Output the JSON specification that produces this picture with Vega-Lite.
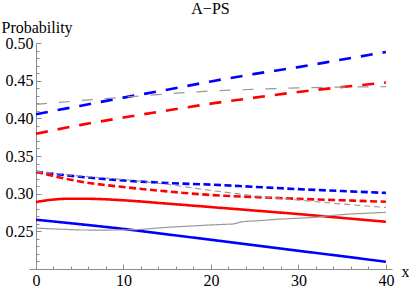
{
  "$schema": "https://vega.github.io/schema/vega-lite/v6.json",
  "width": 363,
  "height": 226,
  "autosize": "none",
  "padding": {"left": 29, "top": 43, "right": 17, "bottom": 22},
  "background": "white",
  "config": {
    "view": {"stroke": null},
    "font": "Liberation Serif",
    "axis": {
      "grid": false,
      "domainColor": "#8c8c8c",
      "tickColor": "#8c8c8c",
      "labelColor": "black",
      "labelFont": "Liberation Serif",
      "labelFontSize": 16,
      "titleFont": "Liberation Serif",
      "titleFontSize": 16,
      "titleFontWeight": "normal",
      "titleColor": "black"
    }
  },
  "title": {"text": "A−PS", "font": "Liberation Serif", "fontSize": 16, "fontWeight": "normal", "color": "black", "anchor": "middle", "frame": "group", "offset": 2},
  "data": {"values": [
    {"s": "blueLong", "x": 0, "p": 0.4055}, {"s": "blueLong", "x": 5, "p": 0.4165}, {"s": "blueLong", "x": 10, "p": 0.4275}, {"s": "blueLong", "x": 15, "p": 0.438}, {"s": "blueLong", "x": 20, "p": 0.449}, {"s": "blueLong", "x": 25, "p": 0.459}, {"s": "blueLong", "x": 30, "p": 0.468}, {"s": "blueLong", "x": 35, "p": 0.478}, {"s": "blueLong", "x": 40, "p": 0.488},
    {"s": "redLong", "x": 0, "p": 0.3795}, {"s": "redLong", "x": 5, "p": 0.391}, {"s": "redLong", "x": 10, "p": 0.401}, {"s": "redLong", "x": 15, "p": 0.4105}, {"s": "redLong", "x": 20, "p": 0.4195}, {"s": "redLong", "x": 25, "p": 0.4275}, {"s": "redLong", "x": 30, "p": 0.435}, {"s": "redLong", "x": 35, "p": 0.4415}, {"s": "redLong", "x": 40, "p": 0.4475},
    {"s": "blueShort", "x": 0, "p": 0.329}, {"s": "blueShort", "x": 5, "p": 0.3225}, {"s": "blueShort", "x": 10, "p": 0.3175}, {"s": "blueShort", "x": 15, "p": 0.3142}, {"s": "blueShort", "x": 20, "p": 0.312}, {"s": "blueShort", "x": 25, "p": 0.309}, {"s": "blueShort", "x": 30, "p": 0.306}, {"s": "blueShort", "x": 35, "p": 0.3035}, {"s": "blueShort", "x": 40, "p": 0.301},
    {"s": "redShort", "x": 0, "p": 0.329}, {"s": "redShort", "x": 5, "p": 0.3162}, {"s": "redShort", "x": 10, "p": 0.3088}, {"s": "redShort", "x": 15, "p": 0.303}, {"s": "redShort", "x": 20, "p": 0.2982}, {"s": "redShort", "x": 25, "p": 0.2955}, {"s": "redShort", "x": 30, "p": 0.2932}, {"s": "redShort", "x": 35, "p": 0.2912}, {"s": "redShort", "x": 40, "p": 0.2893},
    {"s": "redSolid", "x": 0, "p": 0.2889}, {"s": "redSolid", "x": 2, "p": 0.2922}, {"s": "redSolid", "x": 4, "p": 0.2933}, {"s": "redSolid", "x": 6, "p": 0.2932}, {"s": "redSolid", "x": 10, "p": 0.2912}, {"s": "redSolid", "x": 15, "p": 0.2868}, {"s": "redSolid", "x": 20, "p": 0.2822}, {"s": "redSolid", "x": 25, "p": 0.2776}, {"s": "redSolid", "x": 30, "p": 0.2729}, {"s": "redSolid", "x": 35, "p": 0.2678}, {"s": "redSolid", "x": 40, "p": 0.2627},
    {"s": "blueSolid", "x": 0, "p": 0.2654}, {"s": "blueSolid", "x": 5, "p": 0.2595}, {"s": "blueSolid", "x": 10, "p": 0.2532}, {"s": "blueSolid", "x": 15, "p": 0.246}, {"s": "blueSolid", "x": 20, "p": 0.2388}, {"s": "blueSolid", "x": 25, "p": 0.2315}, {"s": "blueSolid", "x": 30, "p": 0.2242}, {"s": "blueSolid", "x": 35, "p": 0.217}, {"s": "blueSolid", "x": 40, "p": 0.2096},
    {"s": "grayLong", "x": 0, "p": 0.4185}, {"s": "grayLong", "x": 5, "p": 0.4235}, {"s": "grayLong", "x": 10, "p": 0.428}, {"s": "grayLong", "x": 15, "p": 0.4325}, {"s": "grayLong", "x": 20, "p": 0.4365}, {"s": "grayLong", "x": 25, "p": 0.4385}, {"s": "grayLong", "x": 30, "p": 0.4405}, {"s": "grayLong", "x": 35, "p": 0.4415}, {"s": "grayLong", "x": 40, "p": 0.442},
    {"s": "grayShort", "x": 0, "p": 0.3295}, {"s": "grayShort", "x": 5, "p": 0.3235}, {"s": "grayShort", "x": 10, "p": 0.3188}, {"s": "grayShort", "x": 15, "p": 0.3125}, {"s": "grayShort", "x": 20, "p": 0.3042}, {"s": "grayShort", "x": 25, "p": 0.2972}, {"s": "grayShort", "x": 30, "p": 0.2915}, {"s": "grayShort", "x": 35, "p": 0.2862}, {"s": "grayShort", "x": 40, "p": 0.2817},
    {"s": "graySolid", "x": 0, "p": 0.2543}, {"s": "graySolid", "x": 2, "p": 0.2532}, {"s": "graySolid", "x": 5, "p": 0.2518}, {"s": "graySolid", "x": 8, "p": 0.2516}, {"s": "graySolid", "x": 10, "p": 0.252}, {"s": "graySolid", "x": 12, "p": 0.2525}, {"s": "graySolid", "x": 14, "p": 0.2545}, {"s": "graySolid", "x": 16, "p": 0.256}, {"s": "graySolid", "x": 18, "p": 0.2572}, {"s": "graySolid", "x": 20, "p": 0.2585}, {"s": "graySolid", "x": 22.5, "p": 0.2597}, {"s": "graySolid", "x": 23.7, "p": 0.263}, {"s": "graySolid", "x": 25.6, "p": 0.2642}, {"s": "graySolid", "x": 27.5, "p": 0.266}, {"s": "graySolid", "x": 29.8, "p": 0.2673}, {"s": "graySolid", "x": 32.1, "p": 0.2687}, {"s": "graySolid", "x": 33.2, "p": 0.2705}, {"s": "graySolid", "x": 35.9, "p": 0.273}, {"s": "graySolid", "x": 40, "p": 0.2752}
  ]},
  "layer": [
    {
      "mark": {"type": "line", "strokeOpacity": 0},
      "encoding": {
        "x": {"field": "x", "type": "quantitative", "scale": {"domain": [-0.8, 40.7], "nice": false, "zero": false},
          "axis": {"orient": "bottom", "values": [2,4,6,8,12,14,16,18,22,24,26,28,32,34,36,38], "tickSize": -3, "labels": false, "domain": false, "title": null}},
        "y": {"field": "p", "type": "quantitative", "scale": {"domain": [0.2, 0.5], "nice": false, "zero": false},
          "axis": {"orient": "left", "offset": -7, "values": [0.21,0.22,0.23,0.24,0.26,0.27,0.28,0.29,0.31,0.32,0.33,0.34,0.36,0.37,0.38,0.39,0.41,0.42,0.43,0.44,0.46,0.47,0.48,0.49], "tickSize": -3, "labels": false, "domain": false, "title": null}},
        "detail": {"field": "s"}
      }
    },
    {
      "transform": [{"filter": {"field": "s", "oneOf": ["blueLong", "redLong", "blueShort", "redShort", "redSolid", "blueSolid"]}}],
      "mark": {"type": "line", "interpolate": "monotone", "strokeWidth": 2.6},
      "encoding": {
        "x": {"field": "x", "type": "quantitative", "scale": {"domain": [-0.8, 40.7], "nice": false, "zero": false},
          "axis": {"orient": "bottom", "values": [0, 10, 20, 30, 40], "tickSize": -5, "labelPadding": 8, "domain": true, "title": "x", "titleX": 372, "titleY": 7, "titleAlign": "left", "titleBaseline": "alphabetic", "titleAnchor": null}},
        "y": {"field": "p", "type": "quantitative", "scale": {"domain": [0.2, 0.5], "nice": false, "zero": false},
          "axis": {"orient": "left", "offset": -7, "values": [0.25, 0.3, 0.35, 0.4, 0.45, 0.5], "format": ".2f", "tickSize": -5, "labelPadding": 8, "domain": true, "title": "Probability", "titleAngle": 0, "titleX": -35, "titleY": -11, "titleAlign": "left", "titleBaseline": "alphabetic", "titleAnchor": null}},
        "color": {"field": "s", "type": "nominal", "legend": null,
          "scale": {"domain": ["blueLong", "redLong", "blueShort", "redShort", "redSolid", "blueSolid", "grayLong", "grayShort", "graySolid"], "range": ["#0000ff", "#ff0000", "#0000ff", "#ff0000", "#ff0000", "#0000ff", "#999999", "#999999", "#999999"]}},
        "strokeDash": {"field": "s", "type": "nominal", "legend": null,
          "scale": {"domain": ["blueLong", "redLong", "blueShort", "redShort", "redSolid", "blueSolid", "grayLong", "grayShort", "graySolid"], "range": [[12, 10], [12, 10], [7, 3.5], [7, 3.5], [1, 0], [1, 0], [11, 12], [6, 4], [1, 0]]}}
      }
    },
    {
      "transform": [{"filter": {"field": "s", "oneOf": ["grayLong", "grayShort", "graySolid"]}}],
      "mark": {"type": "line", "interpolate": "linear", "strokeWidth": 1.2},
      "encoding": {
        "x": {"field": "x", "type": "quantitative", "scale": {"domain": [-0.8, 40.7], "nice": false, "zero": false}, "axis": null},
        "y": {"field": "p", "type": "quantitative", "scale": {"domain": [0.2, 0.5], "nice": false, "zero": false}, "axis": null},
        "color": {"field": "s", "type": "nominal", "legend": null,
          "scale": {"domain": ["blueLong", "redLong", "blueShort", "redShort", "redSolid", "blueSolid", "grayLong", "grayShort", "graySolid"], "range": ["#0000ff", "#ff0000", "#0000ff", "#ff0000", "#ff0000", "#0000ff", "#999999", "#999999", "#999999"]}},
        "strokeDash": {"field": "s", "type": "nominal", "legend": null,
          "scale": {"domain": ["blueLong", "redLong", "blueShort", "redShort", "redSolid", "blueSolid", "grayLong", "grayShort", "graySolid"], "range": [[12, 10], [12, 10], [7, 3.5], [7, 3.5], [1, 0], [1, 0], [11, 12], [6, 4], [1, 0]]}}
      }
    }
  ],
  "resolve": {"axis": {"x": "independent", "y": "independent"}}
}
